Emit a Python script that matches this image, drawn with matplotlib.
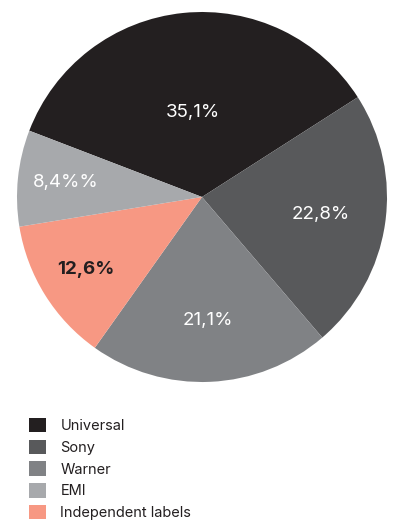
import matplotlib.pyplot as plt
from matplotlib.patches import Patch
import numpy as np

# wedges in clockwise drawing order
labels = ['Universal', 'Sony', 'Warner', 'Independent labels', 'EMI']
shares = [35.1, 22.8, 21.1, 12.6, 8.4]
pct_text = ['35,1%', '22,8%', '21,1%', '12,6%', '8,4%%']
colors = ['#231f20', '#58595b', '#808285', '#f79883', '#a7a9ac']
legend_order = ['Universal', 'Sony', 'Warner', 'EMI', 'Independent labels']

W, H = 395, 520
fig = plt.figure(figsize=(W / 100, H / 100), dpi=100)
cx, cy, r = 202, 197, 185
ax = fig.add_axes([(cx - r) / W, 1 - (cy + r) / H, 2 * r / W, 2 * r / H])

wedges, _ = ax.pie(shares, colors=colors, startangle=159, counterclock=False,
                   radius=1, wedgeprops=dict(linewidth=0))
ax.set_xlim(-1, 1)
ax.set_ylim(-1, 1)
ax.set_aspect('equal')
ax.axis('off')

# label distance from centre per wedge (fraction of radius)
dist = [0.46, 0.65, 0.67, 0.74, 0.74]
for w, txt, d, lab in zip(wedges, pct_text, dist, labels):
    ang = np.deg2rad((w.theta1 + w.theta2) / 2)
    bold = lab == 'Independent labels'
    ax.text(d * np.cos(ang), d * np.sin(ang), txt, ha='center', va='center',
            fontsize=13.5, family=['Inter', 'DejaVu Sans'],
            color='#231f20' if bold else 'white',
            fontweight='bold' if bold else 'normal')

col = dict(zip(labels, colors))
handles = [Patch(facecolor=col[n], edgecolor='none', label=n) for n in legend_order]
fig.legend(handles=handles, loc='upper left',
           bbox_to_anchor=(29 / W, 1 - 418 / H), frameon=False,
           borderpad=0, borderaxespad=0, handlelength=1.15, handleheight=1.15,
           handletextpad=1.0, labelspacing=0.45,
           prop=dict(family=['Inter', 'DejaVu Sans'], size=10.5))
for t in fig.legends[0].get_texts():
    t.set_color('#231f20')

fig.savefig('out.png', dpi=100)
